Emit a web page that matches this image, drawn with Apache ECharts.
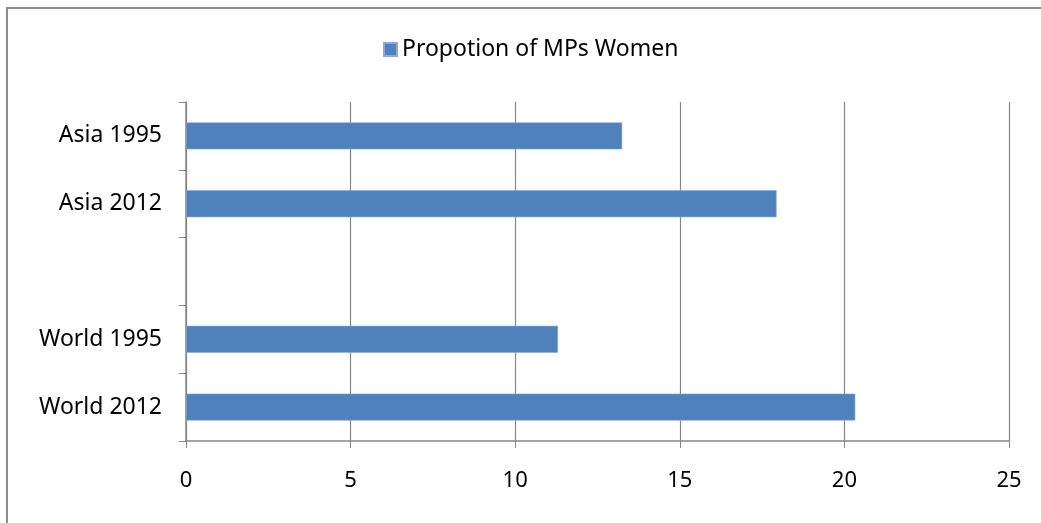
<!DOCTYPE html>
<html>
<head>
<meta charset="utf-8">
<script src="https://cdn.jsdelivr.net/npm/echarts@6/dist/echarts.min.js"></script>
<style>
	html, body { margin: 0; padding: 0; background: #fff; }
	#main { width: 1041px; height: 523px; }
</style>
</head>
<body>
<div id="main"></div>
<script>
// categories top to bottom, the empty one is the gap between Asia and World
const categories = ['Asia 1995', 'Asia 2012', '', 'World 1995', 'World 2012'];
const proportion = [13.25, 17.94, '-', 11.3, 20.33];
const xTicks = [0, 5, 10, 15, 20, 25];
const seriesName = 'Propotion of MPs Women';

const font = '"Noto Sans", sans-serif';
const gridGray = '#868686';

let myChart = echarts.init(document.getElementById('main'));

let option = {
	backgroundColor: '#fff',
	animation: false,
	graphic: [
		// outer frame of the chart area (only left and top edge visible)
		{
			type: 'polyline',
			shape: { points: [[7, 523], [7, 8], [1041, 8]] },
			style: { stroke: '#8c8c8c', lineWidth: 2, fill: null }
		}
	],
	legend: {
		top: 33,
		left: 378,
		icon: 'rect',
		itemWidth: 13,
		itemHeight: 13,
		itemGap: 8,
		textStyle: { fontFamily: font, fontSize: 23, color: '#000' },
		data: [seriesName]
	},
	grid: {
		left: 186,
		right: 32,
		top: 102,
		bottom: 82,
		containLabel: false
	},
	xAxis: {
		type: 'value',
		min: xTicks[0],
		max: xTicks[xTicks.length - 1],
		interval: 5,
		axisLine: { show: true, lineStyle: { color: gridGray, width: 1.5 } },
		axisTick: { show: true, length: 7, lineStyle: { color: gridGray } },
		axisLabel: { margin: 29, fontFamily: font, fontSize: 22, color: '#000' },
		splitLine: { show: true, lineStyle: { color: gridGray, width: 1.2 } }
	},
	yAxis: {
		type: 'category',
		inverse: true,
		data: categories,
		axisLine: { show: true, lineStyle: { color: gridGray, width: 1.5 } },
		axisTick: { show: true, length: 7, lineStyle: { color: gridGray } },
		axisLabel: { margin: 24, fontFamily: font, fontSize: 23, color: '#000' },
		splitLine: { show: false }
	},
	series: [
		{
			name: seriesName,
			type: 'bar',
			data: proportion,
			barWidth: 27,
			itemStyle: {
				color: '#4F81BD',
				borderColor: '#8eaad4',
				borderWidth: 0.6
			}
		}
	]
};

myChart.setOption(option);
</script>
</body>
</html>
